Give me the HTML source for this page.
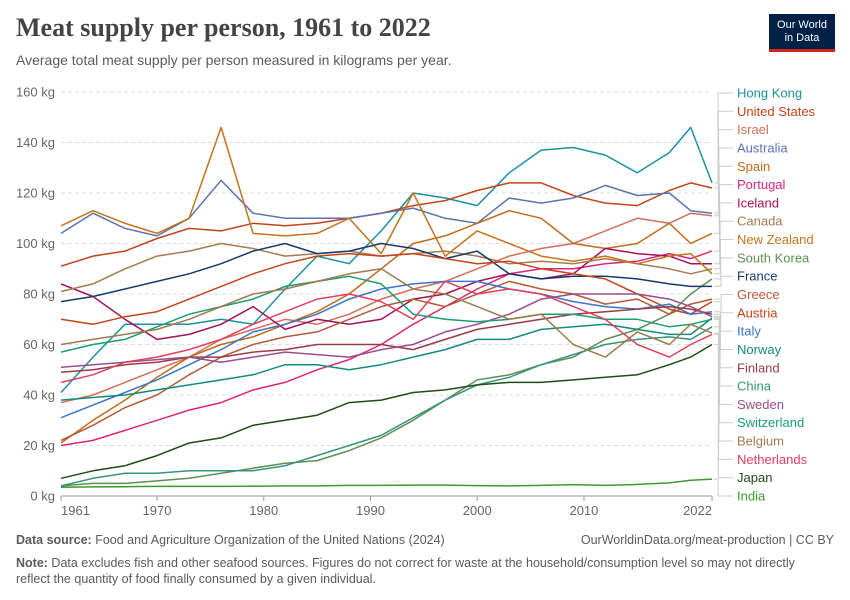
<!DOCTYPE html>
<html><head><meta charset="utf-8">
<style>
body{margin:0;background:#fff;font-family:"Liberation Sans",sans-serif;}
#wrap{position:relative;width:850px;height:600px;overflow:hidden;}
.t{position:absolute;white-space:nowrap;}
</style></head>
<body>
<div id="wrap">
<div class="t" style="left:16px;top:13px;font-family:'Liberation Serif',serif;font-size:26px;font-weight:bold;color:#444">Meat supply per person, 1961 to 2022</div>
<div class="t" style="left:16px;top:52px;font-size:14px;color:#5b5b5b">Average total meat supply per person measured in kilograms per year.</div>
<div style="position:absolute;left:769px;top:14px;width:66px;height:38px;background:#002147;border-bottom:3px solid #ce261e;box-sizing:border-box;color:#fff;font-size:11px;line-height:13px;text-align:center;padding-top:5px">Our World<br>in Data</div>
<svg id="chart" width="850" height="600" style="position:absolute;left:0;top:0"></svg>
<div class="t" style="left:16px;top:533px;font-size:12.5px;color:#5b5b5b"><b>Data source:</b> Food and Agriculture Organization of the United Nations (2024)</div>
<div class="t" style="right:16px;top:533px;font-size:12.5px;color:#5b5b5b">OurWorldinData.org/meat-production | CC BY</div>
<div class="t" style="left:16px;top:555px;font-size:12.5px;color:#5b5b5b;line-height:16px;white-space:normal;width:790px"><b>Note:</b> Data excludes fish and other seafood sources. Figures do not correct for waste at the household/consumption level so may not directly reflect the quantity of food finally consumed by a given individual.</div>
</div>
<script>
const years=[1961,1964,1967,1970,1973,1976,1979,1982,1985,1988,1991,1994,1997,2000,2003,2006,2009,2012,2015,2018,2020,2022];
const yTicks=[0,20,40,60,80,100,120,140,160];
const xTicks=[1961,1970,1980,1990,2000,2010,2022];
const countries=["Hong Kong","United States","Israel","Australia","Spain","Portugal","Iceland","Canada","New Zealand","South Korea","France","Greece","Austria","Italy","Norway","Finland","China","Sweden","Switzerland","Belgium","Netherlands","Japan","India"];
const colors=["#1a92a0","#c0461c","#d36f5b","#5b73b0","#c26a1b","#d9267a","#a21156","#a57b4f","#c4741d","#5e8f55","#163a6b","#b45a3b","#c4441a","#3a76c9","#138c7e","#9a3b49","#38947a","#9a4c8c","#1a9e6e","#a07a4e","#e0405e","#1f4d14","#3c9a2e"];
const hongKong=[41,55,68,68,68,70,68,82,95,92,105,120,118,115,128,137,138,135,128,136,146,124];
const unitedStates=[91,95,97,102,106,105,108,107,108,110,112,115,117,121,124,124,119,116,115,121,124,122];
const israel=[37,40,45,50,55,62,66,70,68,72,78,82,85,90,95,98,100,105,110,108,112,111];
const australia=[104,112,106,103,110,125,112,110,110,110,112,114,110,108,118,116,118,123,119,120,113,112];
const spain=[21,30,38,47,55,60,63,68,73,80,90,100,103,108,113,110,100,98,100,108,100,104];
const portugal=[20,22,26,30,34,37,42,45,50,54,60,68,75,82,88,90,90,92,93,96,94,97];
const iceland=[84,79,70,62,64,68,75,66,70,68,70,78,80,85,88,86,88,98,96,95,92,92];
const canada=[81,84,90,95,97,100,98,95,96,97,95,96,97,95,92,93,92,94,92,90,88,90];
const newZealand=[107,113,108,104,110,146,104,103,104,110,96,120,95,105,100,95,93,95,92,95,96,88];
const southKorea=[4,5,5,6,7,9,11,13,14,18,23,30,38,46,48,52,55,62,66,72,80,86];
const france=[77,79,82,85,88,92,97,100,96,97,100,98,94,97,88,86,87,87,86,84,83,83];
const greece=[22,28,35,40,48,55,60,63,65,70,75,78,75,80,85,82,80,76,78,72,76,78];
const austria=[70,68,71,73,78,83,88,92,95,96,95,96,94,92,93,90,88,86,80,74,72,77];
const italy=[31,36,41,46,52,58,65,68,72,78,82,84,85,85,82,80,77,75,74,76,72,73];
const norway=[38,39,40,42,44,46,48,52,52,50,52,55,58,62,62,66,67,68,66,64,64,70.5];
const finland=[49,50,52,53,55,55,57,58,60,60,60,58,62,66,68,70,72,73,74,75,74,72];
const china=[4,7,9,9,10,10,10,12,16,20,24,31,38,44,47,52,56,60,62,63,62,67];
const sweden=[51,52,53,54,55,53,55,57,56,55,58,60,65,68,72,78,80,80,80,78,75,71];
const switzerland=[57,60,62,67,72,75,78,83,85,87,84,72,70,69,70,72,72,70,70,67,68,70];
const belgium=[60,62,64,66,70,75,80,82,85,88,90,82,80,75,70,72,60,55,65,60,68,64.5];
const netherlands=[45,48,53,55,58,62,68,73,78,80,77,70,85,80,82,80,75,70,60,55,60,64];
const japan=[7,10,12,16,21,23,28,30,32,37,38,41,42,44,45,45,46,47,48,52,55,60];
const india=[3.5,3.6,3.7,3.8,3.8,3.8,3.9,4,4,4.2,4.2,4.3,4.3,4.1,4.0,4.2,4.5,4.2,4.6,5.2,6.2,6.7];
const series=[hongKong,unitedStates,israel,australia,spain,portugal,iceland,canada,newZealand,southKorea,france,greece,austria,italy,norway,finland,china,sweden,switzerland,belgium,netherlands,japan,india];

const X0=61,X1=712,Y0=496,Y1=92;
const xs=y=>X0+(y-1961)/(2022-1961)*(X1-X0);
const ys=v=>Y0-v/160*(Y0-Y1);
const svg=document.getElementById('chart');
const NS='http://www.w3.org/2000/svg';
function mk(tag,attrs){const e=document.createElementNS(NS,tag);for(const k in attrs)e.setAttribute(k,attrs[k]);svg.appendChild(e);return e;}
yTicks.forEach(v=>{
  if(v>0){const g=mk('line',{x1:X0,x2:X1,y1:ys(v),y2:ys(v),stroke:'#ddd','stroke-dasharray':'4,3'});
  
  }
  const t=mk('text',{x:55,y:ys(v)+4.5,'text-anchor':'end','font-size':13,fill:'#666','font-family':'Liberation Sans, sans-serif'});
  t.textContent=v+' kg';
  
  
});
const ax=mk('line',{x1:X0,x2:X1,y1:Y0,y2:Y0,stroke:'#999'});


xTicks.forEach((yr,i)=>{
  const tk=mk('line',{x1:xs(yr),x2:xs(yr),y1:Y0,y2:Y0+5,stroke:'#999'});
  
  
  const anchor=i===0?'start':(i===xTicks.length-1?'end':'middle');
  const t=mk('text',{x:xs(yr),y:Y0+19,'text-anchor':anchor,'font-size':13,fill:'#666','font-family':'Liberation Sans, sans-serif'});
  t.textContent=yr;
  
  
});
series.forEach((s,i)=>{
  const d=s.map((v,j)=>(j?'L':'M')+xs(years[j]).toFixed(1)+','+ys(v).toFixed(1)).join('');
  const p=mk('path',{d:d,fill:'none',stroke:colors[i],'stroke-width':1.5,'stroke-linejoin':'round'});
  
  
});
const n=countries.length;
countries.forEach((c,i)=>{
  const ly=93+i*(496-93)/(n-1);
  const ey=ys(series[i][series[i].length-1]);
  const cx=718+Math.min(i,n-1-i)*0.3;
  const cn=mk('path',{d:`M${X1+2},${ey.toFixed(1)}H${cx}V${ly.toFixed(1)}H733`,fill:'none',stroke:'#ccc','stroke-width':1});
  
  
  const t=mk('text',{x:737,y:ly+4.5,'font-size':13,fill:colors[i],'font-family':'Liberation Sans, sans-serif'});
  t.textContent=c;
  
  
});
</script>
</body></html>
